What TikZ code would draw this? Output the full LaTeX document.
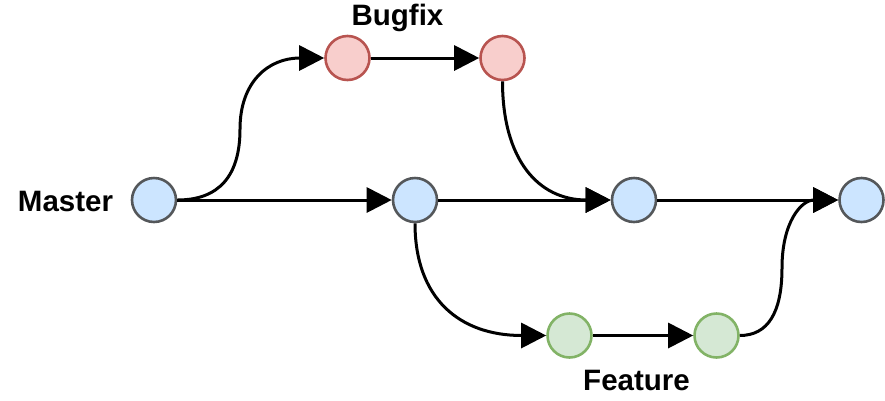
\documentclass[tikz,border=0pt]{standalone}
\usepackage{fontspec}
\setmainfont{Liberation Sans}
\usetikzlibrary{arrows.meta}

\definecolor{mfill}{HTML}{CCE5FF}
\definecolor{mline}{HTML}{36393D}
\definecolor{bfill}{HTML}{F8CECC}
\definecolor{bline}{HTML}{B85450}
\definecolor{ffill}{HTML}{D5E8D4}
\definecolor{fline}{HTML}{82B366}

\begin{document}
\begin{tikzpicture}[
  x=1pt, y=-1pt,
  every node/.style={inner sep=0pt},
  commit/.style={circle, minimum size=44pt, line width=2.6pt},
  mcommit/.style={commit, draw=mline!85, fill=mfill},
  bcommit/.style={commit, draw=bline, fill=bfill},
  fcommit/.style={commit, draw=fline, fill=ffill},
  branchname/.style={anchor=base, font=\fontsize{29.5}{35}\selectfont\bfseries},
  arrow/.style={draw, line width=3pt, -{Triangle[length=25pt, width=25pt]}}]

  \useasboundingbox (0,0) rectangle (885,400);

  % ---- the commits, at their places in the drawing ------------------------
  \node[mcommit] (m1) at (154,200) {};
  \node[mcommit] (m2) at (415,200) {};
  \node[mcommit] (m3) at (634,200) {};
  \node[mcommit] (m4) at (861.5,200) {};
  \node[bcommit] (b1) at (347.5,58) {};
  \node[bcommit] (b2) at (502.5,58) {};
  \node[fcommit] (f1) at (569.5,335.5) {};
  \node[fcommit] (f2) at (716.5,335.5) {};

  % ---- the branch names, set on their base lines --------------------------
  \node[branchname] (master) at (65.5,211.5) {Master};
  \node[branchname] (bugfix) at (397.5,25.5) {Bugfix};
  \node[branchname] (feature) at (636.5,390.5) {Feature};

  % ---- the main line ------------------------------------------------------
  \draw[arrow] (m1) -- (m2);
  \draw[arrow] (m2) -- (m3);
  \draw[arrow] (m3) -- (m4);

  % ---- bugfix: out of m1, merged back into m3 -----------------------------
  \draw[arrow] (m1.east) .. controls (218.7,200) and (240,176.3) .. (240,129)
    .. controls (240,81.7) and (268.5,58) .. (b1.west);
  \draw[arrow] (b1) -- (b2);
  \draw[arrow] (b2.south) .. controls (502.5,160.3) and (538.7,200) .. (m3.west);

  % ---- feature: out of m2, merged back into m4 ----------------------------
  \draw[arrow] (m2.south) .. controls (415,298) and (459,335.5) .. (f1.west);
  \draw[arrow] (f1) -- (f2);
  \draw[arrow] (f2.east) .. controls (767.7,335.5) and (782,312.9) .. (782,267.75)
    .. controls (782,222.6) and (801,200) .. (m4.west);
\end{tikzpicture}
\end{document}
